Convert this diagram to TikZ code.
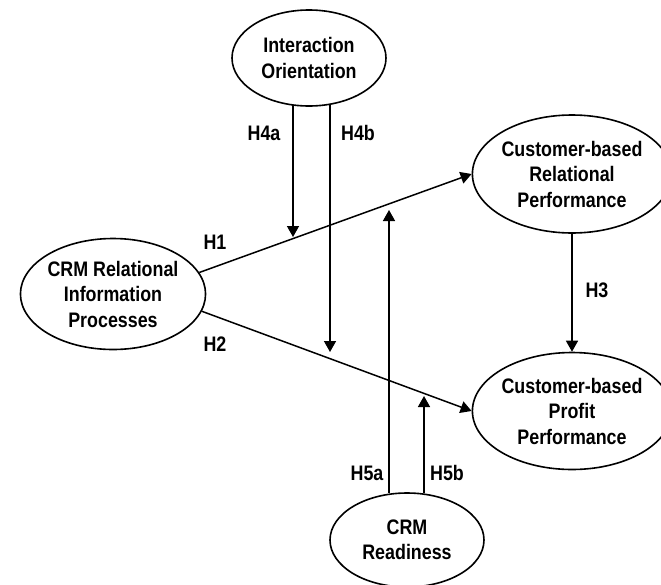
\documentclass[tikz,border=0pt]{standalone}
\usepackage{fontspec}
\setmainfont{Liberation Sans}[FakeStretch=0.85]
\usetikzlibrary{shapes.geometric,arrows.meta}
\begin{document}
\begin{tikzpicture}[x=1pt,y=-1pt]
\tikzset{
 oval/.style={ellipse, draw, line width=1.6pt, inner sep=0pt, align=center, font=\bfseries\fontsize{21}{25.5}\selectfont},
 lab/.style={font=\bfseries\fontsize{21}{25.5}\selectfont, inner sep=0pt},
 arr/.style={line width=1.5pt, -{Triangle[length=11pt,width=12pt]}}
}
\useasboundingbox (0,0) rectangle (661,584);
\node[oval, minimum width=154pt, minimum height=96pt] (IO) at (309,58) {Interaction\\Orientation};
\node[oval, minimum width=182pt, minimum height=111pt] (CRM) at (113,294) {CRM Relational\\Information\\Processes};
\node[oval, minimum width=178pt, minimum height=118pt] (CBR) at (572,174) {Customer-based\\Relational\\Performance};
\node[oval, minimum width=178pt, minimum height=117pt] (CBP) at (572,411) {Customer-based\\Profit\\Performance};
\node[oval, minimum width=154pt, minimum height=94pt] (CR) at (407,540) {CRM\\Readiness};

\coordinate (t4a) at (293,237);
\coordinate (t4b) at (330,352);
\coordinate (t5a) at (389,210);
\coordinate (t5b) at (424,396);

\draw[arr] (CRM.14) -- (CBR.west);
\draw[arr] (CRM.-11) -- (CBP.west);
\draw[arr] (CBR.south) -- (CBP.north);
\draw[arr, shorten <=-2pt] (t4a |- IO.south) -- (t4a);
\draw[arr, shorten <=-2pt] (t4b |- IO.south) -- (t4b);
\draw[arr, shorten <=-1pt] (t5a |- CR.north) -- (t5a);
\draw[arr, shorten <=-1pt] (t5b |- CR.north) -- (t5b);

\node[lab] (l4a) at (264,133) {H4a};
\node[lab] (l4b) at (358,133) {H4b};
\node[lab] (l1) at (215,242) {H1};
\node[lab] (l2) at (215,344) {H2};
\node[lab] (l3) at (597,290) {H3};
\node[lab] (l5a) at (367,473) {H5a};
\node[lab] (l5b) at (447,473) {H5b};
\end{tikzpicture}
\end{document}
